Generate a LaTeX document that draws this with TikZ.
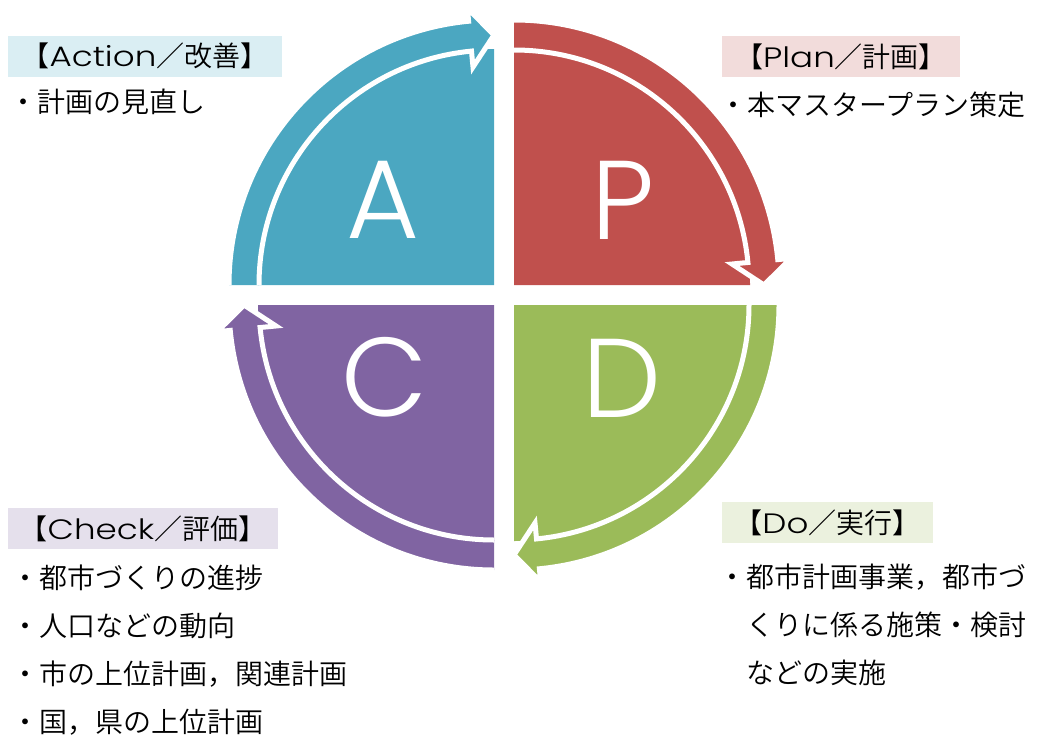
\documentclass[tikz,border=0pt]{standalone}
\usepackage{fontspec}
\usepackage{tikz}
\setmainfont{Noto Sans CJK JP DemiLight}
\newfontfamily\latfont[FakeStretch=1.22]{Poppins Light}
\newfontfamily\bigfont{Poppins Light}
\definecolor{planred}{RGB}{192, 80, 77}
\definecolor{dogreen}{RGB}{155, 187, 89}
\definecolor{checkpurple}{RGB}{128, 100, 162}
\definecolor{actblue}{RGB}{75, 167, 193}
\definecolor{planlight}{RGB}{242, 220, 219}
\definecolor{dolight}{RGB}{235, 241, 222}
\definecolor{checklight}{RGB}{229, 224, 236}
\definecolor{actlight}{RGB}{218, 238, 243}

\tikzset{
  letter/.style={text=white, inner sep=0, font=\bigfont\fontsize{56pt}{56pt}\selectfont},
  header/.style={inner sep=0, minimum height=20.5pt, font=\fontsize{14pt}{14pt}\selectfont},
  items/.style={inner sep=0, anchor=west, align=left, font=\fontsize{14pt}{24pt}\selectfont},
  ring/.style={draw=white, line width=2.5pt, line join=miter}
}

\begin{document}
\begin{tikzpicture}[x=0.5pt, y=0.5pt]

  \useasboundingbox (0, 0) rectangle (1043, 736);

  \pgfmathsetmacro{\rs}{236}
  \pgfmathsetmacro{\ri}{235}
  \pgfmathsetmacro{\ro}{265}
  \pgfmathsetmacro{\rmid}{250}
  \pgfmathsetmacro{\hi}{219}
  \pgfmathsetmacro{\ho}{278}

  \begin{scope}[shift={(514, 451)}]
    \fill[planred] (0, 0) -- (90:\rs) arc[start angle=90, end angle=0, radius=\rs] -- cycle;
    \filldraw[fill=planred, ring] (90:\ri) arc[start angle=90, end angle=5.5, radius=\ri]
      -- (5.5:\hi) -- (0:\rmid) -- (5.5:\ho) -- (5.5:\ro) arc[start angle=5.5, end angle=90, radius=\ro];
  \end{scope}

  \begin{scope}[shift={(514, 431)}]
    \fill[dogreen] (0, 0) -- (0:\rs) arc[start angle=0, end angle=-90, radius=\rs] -- cycle;
    \filldraw[fill=dogreen, ring] (0:\ri) arc[start angle=0, end angle=-84.5, radius=\ri]
      -- (-84.5:\hi) -- (-90:\rmid) -- (-84.5:\ho) -- (-84.5:\ro) arc[start angle=-84.5, end angle=0, radius=\ro];
  \end{scope}

  \begin{scope}[shift={(494, 431)}]
    \fill[checkpurple] (0, 0) -- (-90:\rs) arc[start angle=-90, end angle=-180, radius=\rs] -- cycle;
    \filldraw[fill=checkpurple, ring] (-90:\ri) arc[start angle=-90, end angle=-174.5, radius=\ri]
      -- (-174.5:\hi) -- (-180:\rmid) -- (-174.5:\ho) -- (-174.5:\ro) arc[start angle=-174.5, end angle=-90, radius=\ro];
  \end{scope}

  \begin{scope}[shift={(494, 451)}]
    \fill[actblue] (0, 0) -- (180:\rs) arc[start angle=180, end angle=90, radius=\rs] -- cycle;
    \filldraw[fill=actblue, ring] (180:\ri) arc[start angle=180, end angle=95.5, radius=\ri]
      -- (95.5:\hi) -- (90:\rmid) -- (95.5:\ho) -- (95.5:\ro) arc[start angle=95.5, end angle=180, radius=\ro];
  \end{scope}

  \node[letter] (letP) at (623, 536) {P};
  \node[letter] (letD) at (622, 358) {D};
  \node[letter] (letC) at (385, 359) {C};
  \node[letter] (letA) at (383, 536) {A};

  \node[header, fill=planlight, minimum width=119pt] (hdrplan) at (841, 679.5) {【{\latfont Plan}／計画】};
  \node[items] (itemplan) at (719, 631) {・本マスタープラン策定};

  \node[header, fill=actlight, minimum width=137pt] (hdraction) at (145, 680) {【{\latfont Action}／改善】};
  \node[items] (itemaction) at (9, 634) {・計画の見直し};

  \node[header, fill=dolight, minimum width=105.5pt] (hdrdo) at (827.5, 213.5) {【{\latfont Do}／実行】};
  \node[items] (itemdo) at (718, 111.5) {・都市計画事業，都市づ\\　くりに係る施策・検討\\　などの実施};

  \node[header, fill=checklight, minimum width=135pt] (hdrcheck) at (143, 207.5) {【{\latfont Check}／評価】};
  \node[items] (itemcheck) at (11, 86) {・都市づくりの進捗\\・人口などの動向\\・市の上位計画，関連計画\\・国，県の上位計画};

\end{tikzpicture}
\end{document}
